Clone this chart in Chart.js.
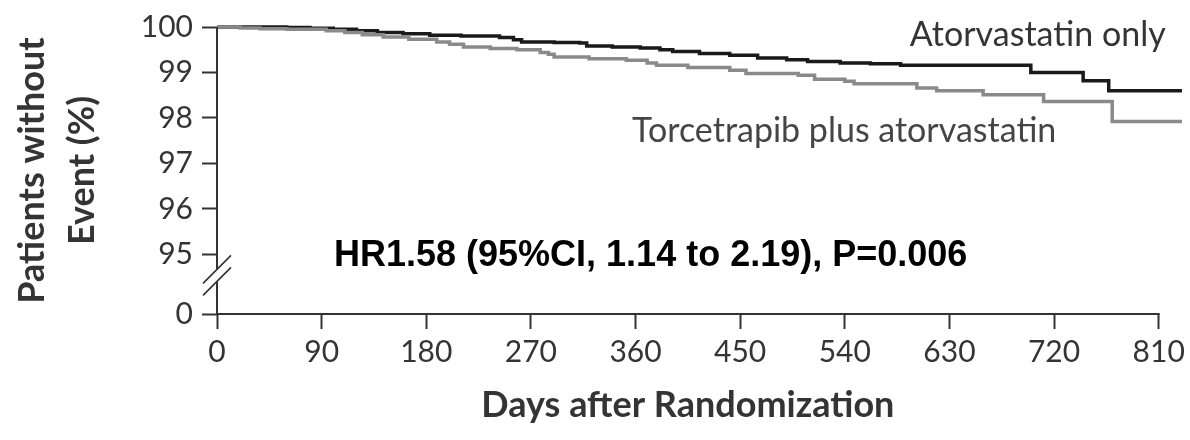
<!DOCTYPE html>
<html>
<head>
<meta charset="utf-8">
<title>Patients without Event</title>
<script src="https://cdn.jsdelivr.net/npm/chart.js@4/dist/chart.umd.min.js"></script>
<style>
  html, body { margin: 0; padding: 0; background: #ffffff; }
</style>
</head>
<body>
<canvas id="km-chart" width="1190" height="440"></canvas>
<script>
// Kaplan-Meier steps: day of each drop and % of patients still without event from that day on
var atorvaDays = [0, 60, 80, 100, 120, 138, 160, 183, 210, 243, 255, 262, 290, 312, 318, 340, 364, 381, 392, 415, 441, 465, 490, 508, 536, 562, 588, 700, 745, 767, 830];
var atorvaPct = [100, 99.99, 99.97, 99.95, 99.92, 99.88, 99.85, 99.82, 99.80, 99.77, 99.72, 99.67, 99.66, 99.65, 99.58, 99.56, 99.54, 99.50, 99.46, 99.42, 99.38, 99.32, 99.28, 99.24, 99.21, 99.19, 99.16, 99.00, 98.82, 98.60, 98.60];

var torcetDays = [0, 20, 37, 60, 94, 110, 125, 143, 165, 189, 200, 212, 235, 258, 278, 285, 290, 320, 352, 370, 378, 405, 441, 455, 500, 514, 540, 548, 602, 619, 659, 711, 770, 830];
var torcetPct = [100, 99.98, 99.96, 99.95, 99.92, 99.88, 99.83, 99.78, 99.73, 99.67, 99.62, 99.56, 99.53, 99.50, 99.44, 99.40, 99.34, 99.30, 99.27, 99.21, 99.16, 99.11, 99.05, 98.98, 98.94, 98.85, 98.81, 98.75, 98.66, 98.60, 98.51, 98.36, 97.92, 97.92];

var seriesNames = ["Atorvastatin only", "Torcetrapib plus atorvastatin"];
var xTicks = [0, 90, 180, 270, 360, 450, 540, 630, 720, 810];
var yTicks = [95, 96, 97, 98, 99, 100];
var hrText = "HR1.58 (95%CI, 1.14 to 2.19), P=0.006";

// the axis is broken below 95: the "0" tick sits just under it
var yZeroAt = 93.69;

function toPoints(days, pct) {
    return days.map(function (d, i) { return { x: d, y: pct[i] }; });
}

var textColor = "#343434";

// axis lines (x stops at 810), the break marks and the in-plot texts
var axisDecor = {
    id: "axisDecor",
    afterDraw: function (chart) {
        var ctx = chart.ctx;
        var xs = chart.scales.x;
        var ys = chart.scales.y;
        var x0 = xs.getPixelForValue(0);
        var xEnd = xs.getPixelForValue(xTicks[xTicks.length - 1]);
        var yTop = ys.getPixelForValue(100);
        var yBot = ys.getPixelForValue(yZeroAt);
        var y95 = ys.getPixelForValue(95);
        var yBreak = y95 + 21;

        ctx.save();
        ctx.strokeStyle = "#333333";
        ctx.lineWidth = 2;
        ctx.lineCap = "butt";

        ctx.beginPath();
        ctx.moveTo(x0 - 1, yBot);
        ctx.lineTo(xEnd + 1, yBot);
        ctx.moveTo(x0, yTop);
        ctx.lineTo(x0, yBreak - 6);
        ctx.moveTo(x0, yBreak + 6);
        ctx.lineTo(x0, yBot);
        ctx.stroke();

        // two slashes across the axis
        ctx.lineWidth = 1.6;
        ctx.beginPath();
        [-6, 6].forEach(function (off) {
            ctx.moveTo(x0 - 14, yBreak + off + 14);
            ctx.lineTo(x0 + 14, yBreak + off - 14);
        });
        ctx.stroke();

        ctx.textBaseline = "middle";

        ctx.fillStyle = textColor;
        ctx.font = "34px Lato";
        ctx.textAlign = "right";
        ctx.fillText(seriesNames[0], xs.getPixelForValue(816), ys.getPixelForValue(99.83));

        ctx.fillStyle = "#454545";
        ctx.textAlign = "left";
        ctx.fillText(seriesNames[1], xs.getPixelForValue(357), ys.getPixelForValue(97.71));

        ctx.fillStyle = "#000000";
        ctx.font = "bold 36px 'Liberation Sans', Arial, sans-serif";
        ctx.textAlign = "center";
        ctx.fillText(hrText, xs.getPixelForValue(373), ys.getPixelForValue(94.96));

        // x title centred under the 0-810 span
        ctx.fillStyle = textColor;
        ctx.font = "bold 36px Lato";
        ctx.fillText("Days after Randomization", (x0 + xEnd) / 2, 405);
        ctx.restore();
    }
};

new Chart(document.getElementById("km-chart"), {
    type: "line",
    data: {
        datasets: [{
            label: seriesNames[0],
            data: toPoints(atorvaDays, atorvaPct),
            borderColor: "#1a1a1a",
            borderWidth: 3.5,
            stepped: true,
            pointRadius: 0,
            clip: false,
            order: 1
        }, {
            label: seriesNames[1],
            data: toPoints(torcetDays, torcetPct),
            borderColor: "#8a8a8a",
            borderWidth: 3.5,
            stepped: true,
            pointRadius: 0,
            clip: false,
            order: 0
        }]
    },
    options: {
        responsive: false,
        animation: false,
        layout: { padding: { top: 25, right: 8, left: 0, bottom: 0 } },
        plugins: {
            legend: { display: false },
            tooltip: { enabled: false }
        },
        scales: {
            x: {
                type: "linear",
                min: 0,
                max: 830,
                afterBuildTicks: function (scale) {
                    scale.ticks = xTicks.map(function (v) { return { value: v }; });
                },
                afterFit: function (scale) { scale.height = 126; },
                grid: { drawOnChartArea: false, drawTicks: true, tickLength: 15, tickWidth: 2, tickColor: "#333333" },
                border: { display: false },
                ticks: {
                    color: textColor,
                    font: { family: "Lato", size: 30 },
                    padding: 5,
                    maxRotation: 0,
                    autoSkip: false
                }
            },
            y: {
                type: "linear",
                min: yZeroAt,
                max: 100,
                afterBuildTicks: function (scale) {
                    scale.ticks = [yZeroAt].concat(yTicks).map(function (v) { return { value: v }; });
                },
                afterFit: function (scale) { scale.width = 217; },
                grid: { drawOnChartArea: false, drawTicks: true, tickLength: 15, tickWidth: 2, tickColor: "#333333" },
                border: { display: false },
                ticks: {
                    color: textColor,
                    font: { family: "Lato", size: 30 },
                    padding: 9,
                    autoSkip: false,
                    callback: function (value) { return value < 95 ? "0" : value; }
                },
                title: {
                    display: true,
                    text: ["Patients without", "Event (%)"],
                    color: textColor,
                    font: { family: "Lato", size: 36, weight: "bold", lineHeight: 50 / 36 },
                    padding: { top: 7, bottom: 0 }
                }
            }
        }
    },
    plugins: [axisDecor]
});
</script>
</body>
</html>
